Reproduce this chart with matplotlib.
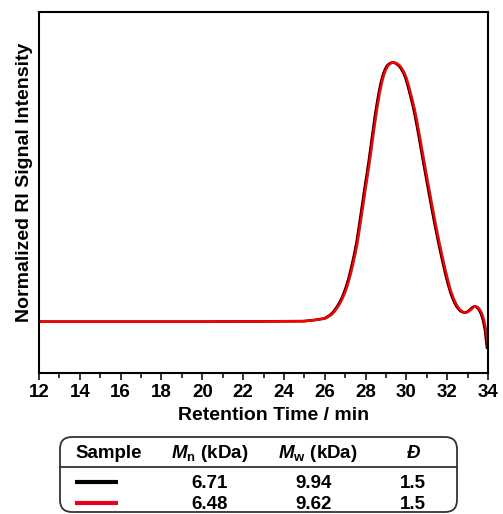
import matplotlib
matplotlib.use("Agg")
import matplotlib.pyplot as plt
from matplotlib.patches import FancyBboxPatch
from matplotlib.lines import Line2D

plt.rcParams['font.family'] = ['Liberation Sans', 'DejaVu Sans']
plt.rcParams['font.weight'] = 'bold'
plt.rcParams['mathtext.fontset'] = 'custom'
plt.rcParams['mathtext.rm'] = 'Liberation Sans'
plt.rcParams['mathtext.bf'] = 'Liberation Sans:bold'
plt.rcParams['mathtext.bfit'] = 'Liberation Sans:italic:bold'

# retention time (min) and normalized RI signal
tiempo_rojo = [12.0, 20.0, 25.0, 25.5, 26.0, 26.1, 26.2, 26.3, 26.4, 26.5, 26.6, 26.7,
               26.8, 26.9, 27.0, 27.1, 27.2, 27.3, 27.4, 27.5, 27.6, 27.7, 27.8, 27.9,
               28.0, 28.1, 28.2, 28.3, 28.4, 28.5, 28.6, 28.7, 28.8, 28.9, 29.0, 29.1,
               29.2, 29.3, 29.4, 29.5, 29.6, 29.7, 29.8, 29.9, 30.0, 30.1, 30.2, 30.3,
               30.4, 30.5, 30.6, 30.7, 30.8, 30.9, 31.0, 31.1, 31.2, 31.3, 31.4, 31.5,
               31.6, 31.7, 31.8, 31.9, 32.0, 32.1, 32.2, 32.3, 32.4, 32.5, 32.6, 32.7,
               32.8, 32.9, 33.0, 33.1, 33.2, 33.3, 33.4, 33.5, 33.6, 33.7, 33.8, 33.9,
               34.0]
senal = [0.0, 0.0, 0.002, 0.006, 0.012, 0.015, 0.020, 0.025, 0.032, 0.041, 0.052, 0.064,
         0.078, 0.094, 0.113, 0.136, 0.162, 0.192, 0.226, 0.262, 0.302, 0.352, 0.405, 0.458,
         0.512, 0.563, 0.615, 0.672, 0.730, 0.787, 0.838, 0.884, 0.922, 0.952, 0.973, 0.987,
         0.995, 0.999, 1.000, 0.998, 0.993, 0.986, 0.975, 0.961, 0.942, 0.916, 0.886, 0.855,
         0.822, 0.783, 0.741, 0.697, 0.652, 0.607, 0.563, 0.520, 0.477, 0.434, 0.392, 0.352,
         0.313, 0.276, 0.240, 0.205, 0.172, 0.142, 0.115, 0.093, 0.075, 0.060, 0.049, 0.041,
         0.037, 0.035, 0.037, 0.042, 0.049, 0.056, 0.059, 0.056, 0.047, 0.032, 0.008, -0.030,
         -0.100]

tiempo_negro = [12.0, 20.0, 24.95, 25.45, 25.95, 26.05, 26.15, 26.25, 26.35, 26.45, 26.55,
                26.65, 26.75, 26.85, 26.95, 27.05, 27.15, 27.25, 27.35, 27.45, 27.55, 27.65,
                27.75, 27.85, 27.95, 28.05, 28.15, 28.25, 28.35, 28.45, 28.55, 28.65, 28.75,
                28.85, 28.95, 29.05, 29.15, 29.25, 29.35, 29.45, 29.55, 29.65, 29.75, 29.85,
                29.95, 30.05, 30.15, 30.25, 30.35, 30.45, 30.55, 30.65, 30.75, 30.85, 30.95,
                31.05, 31.15, 31.25, 31.35, 31.45, 31.55, 31.65, 31.75, 31.85, 31.95, 32.05,
                32.15, 32.25, 32.35, 32.45, 32.55, 32.65, 32.75, 32.85, 32.95, 33.05, 33.15,
                33.25, 33.35, 33.45, 33.55, 33.65, 33.75, 33.85, 33.95]

muestras_color = ['black', '#e8001c']
mn_kda = ['6.71', '6.48']
mw_kda = ['9.94', '9.62']
dispersidad = ['1.5', '1.5']
encabezados = ['Sample', r'$\mathbfit{M}_{\mathrm{n}}$ (kDa)', r'$\mathbfit{M}_{\mathrm{w}}$ (kDa)', 'Đ']

fig = plt.figure(figsize=(5.03, 5.14), dpi=100)
ax = fig.add_axes([39 / 503, 1 - 373 / 514, 449 / 503, 361 / 514])

ax.plot(tiempo_negro, senal, color='black', lw=1.9)
ax.plot(tiempo_rojo, senal, color='#ff0000', lw=1.8)

ax.set_xlim(12, 34)
ax.set_ylim(-0.198, 1.195)
ax.set_xticks(range(12, 35, 2))
ax.set_xticks(range(13, 34, 2), minor=True)
ax.set_yticks([])
ax.tick_params(axis='x', which='major', direction='out', length=5, width=1.1,
               labelsize=13.5, pad=3)
ax.tick_params(axis='x', which='minor', direction='out', length=3.5, width=1.1)
for s in ax.spines.values():
    s.set_linewidth(1.5)

ax.set_xlabel('Retention Time / min', fontsize=14, fontweight='bold')
ax.set_ylabel('Normalized RI Signal Intensity', fontsize=14, fontweight='bold')
ax.xaxis.set_label_coords(0.522, -0.095)
ax.yaxis.set_label_coords(-0.013, 0.528)

# tabla debajo del grafico (coordenadas en pulgadas)
tr = fig.dpi_scale_trans
caja = FancyBboxPatch((0.60, 0.02), 3.97, 0.75,
                      boxstyle="round,pad=0,rounding_size=0.12",
                      transform=tr, fill=False, lw=1.3, ec='#333333')
fig.patches.append(caja)
fig.lines.append(Line2D([0.60, 4.57], [0.473, 0.473], transform=tr,
                        color='#333333', lw=1.3))

col_x = [1.09, 2.10, 3.18, 4.14]
val_x = [2.10, 3.14, 4.13]
for cx, txt in zip(col_x, encabezados):
    if txt == 'Đ':
        fig.text(cx, 0.557, txt, transform=tr, ha='center', va='baseline',
                 fontsize=13.5, fontweight='bold', fontstyle='italic')
    else:
        fig.text(cx, 0.557, txt, transform=tr, ha='center', va='baseline',
                 fontsize=13.5, fontweight='bold')

filas_y = [0.257, 0.047]
linea_y = [0.317, 0.107]
for i in range(2):
    fig.lines.append(Line2D([0.75, 1.183], [linea_y[i], linea_y[i]], transform=tr,
                            color=muestras_color[i], lw=3, solid_capstyle='butt'))
    for vx, v in zip(val_x, [mn_kda[i], mw_kda[i], dispersidad[i]]):
        fig.text(vx, filas_y[i], v, transform=tr, ha='center', va='baseline',
                 fontsize=13.5, fontweight='bold')

fig.savefig('out.png', dpi=100)
